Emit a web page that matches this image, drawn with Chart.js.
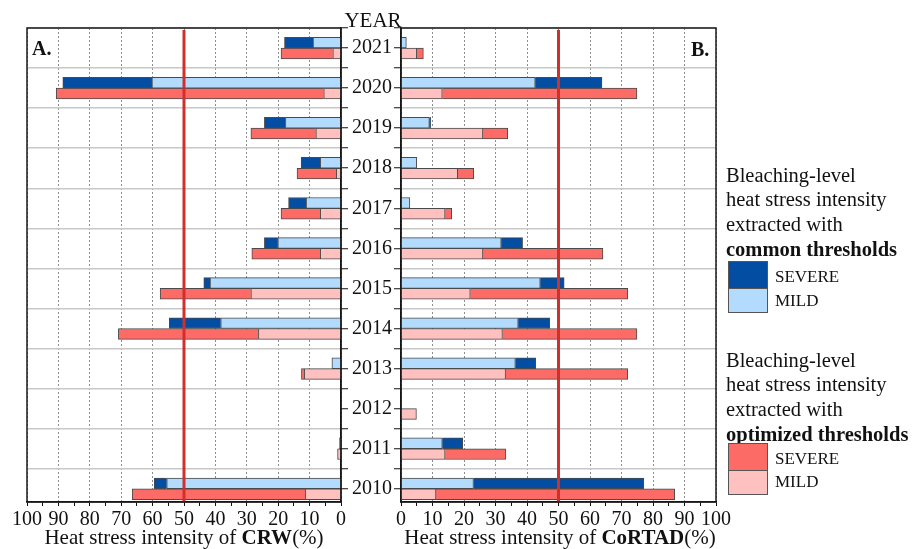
<!DOCTYPE html>
<html>
<head>
<meta charset="utf-8">
<script src="https://cdn.jsdelivr.net/npm/chart.js@4.4.1/dist/chart.umd.min.js"></script>
<style>
  body { margin: 0; background: #fff; }
  #wrap { position: relative; width: 914px; height: 549px; font-family: 'Liberation Serif', 'Times New Roman', serif; color: #111; }
  canvas { position: absolute; top: 0; }
  .txt { position: absolute; white-space: nowrap; line-height: 1; }
  .leg { position: absolute; left: 726px; font-size: 20.5px; line-height: 24.7px; white-space: nowrap; }
  .sw { position: absolute; left: 728px; width: 40px; border: 1px solid #555; box-sizing: border-box; }
  .lab { position: absolute; left: 775px; font-size: 17px; line-height: 1; }
</style>
</head>
<body>
<div id="wrap">
  <canvas id="crwChart" width="400" height="549" style="left:0"></canvas>
  <canvas id="cortadChart" width="543" height="549" style="left:371px"></canvas>

  <div class="txt" style="left:373px; top:10px; font-size:21px; transform:translateX(-50%)">YEAR</div>
  <div class="txt" style="left:32px; top:38px; font-size:20px; font-weight:bold">A.</div>
  <div class="txt" style="left:691px; top:39px; font-size:20px; font-weight:bold">B.</div>
  <div class="txt" style="left:184px; top:527px; font-size:21px; transform:translateX(-50%)">Heat stress intensity of <b>CRW</b>(%)</div>
  <div class="txt" style="left:560px; top:527px; font-size:21px; transform:translateX(-50%)">Heat stress intensity of <b>CoRTAD</b>(%)</div>

  <div class="leg" style="top:162.5px">Bleaching-level<br>heat stress intensity<br>extracted with<br><b>common thresholds</b></div>
  <div class="sw" style="top:261px; height:28px; background:#034ea2"></div>
  <div class="sw" style="top:288px; height:25px; background:#b3dbfd"></div>
  <div class="lab" style="top:268px">SEVERE</div>
  <div class="lab" style="top:292px">MILD</div>

  <div class="leg" style="top:347.5px">Bleaching-level<br>heat stress intensity<br>extracted with<br><b>optimized thresholds</b></div>
  <div class="sw" style="top:443px; height:28px; background:#fd6b66"></div>
  <div class="sw" style="top:470px; height:25px; background:#ffc0c0"></div>
  <div class="lab" style="top:449.5px">SEVERE</div>
  <div class="lab" style="top:473px">MILD</div>
</div>

<script>
// Data (percent), top to bottom
const years = [2021, 2020, 2019, 2018, 2017, 2016, 2015, 2014, 2013, 2012, 2011, 2010];

// CRW - panel A
const crwCommonMild     = [8.9, 60.2, 17.7, 6.6, 11.1, 20.1, 41.7, 38.3, 2.9, null, 0.5, 55.5];
const crwCommonSevere   = [9.1, 28.4, 6.7, 6.1, 5.6, 4.3, 2.0, 16.4, null, null, null, 4.0];
const crwOptMild        = [2.6, 5.5, 8.0, 1.5, 6.6, 6.6, 28.7, 26.3, 11.7, null, 1.1, 11.4];
const crwOptSevere      = [16.5, 85.2, 20.7, 12.5, 12.5, 21.8, 28.9, 44.6, 0.9, null, null, 55.1];

// CoRTAD - panel B
const cortadCommonMild   = [1.7, 42.6, 9.0, 5.0, 2.8, 31.8, 44.2, 37.2, 36.3, null, 13.1, 23.0];
const cortadCommonSevere = [null, 21.2, 0.4, null, null, 6.8, 7.6, 10.0, 6.5, null, 6.5, 54.1];
const cortadOptMild      = [5.0, 13.1, 26.0, 18.0, 14.0, 26.0, 22.0, 32.2, 33.2, 4.9, 14.0, 11.1];
const cortadOptSevere    = [2.1, 61.8, 7.9, 5.1, 2.1, 38.1, 50.0, 42.7, 38.8, null, 19.3, 75.8];

const threshold = 50;
const xTicks = [0, 5, 10, 15, 20, 25, 30, 35, 40, 45, 50, 55, 60, 65, 70, 75, 80, 85, 90, 95, 100];
const yTicks = [2010, 2010.5, 2011, 2011.5, 2012, 2012.5, 2013, 2013.5, 2014, 2014.5, 2015, 2015.5,
                2016, 2016.5, 2017, 2017.5, 2018, 2018.5, 2019, 2019.5, 2020, 2020.5, 2021, 2021.5];

const colors = {
    commonSevere: '#034ea2',
    commonMild: '#b3dbfd',
    optSevere: '#fd6b66',
    optMild: '#ffc0c0'
};

Chart.defaults.font.family = "'Liberation Serif', 'Times New Roman', serif";
Chart.defaults.color = '#111';

function toPoints(vals) {
    return vals.map((v, i) => ({ x: v, y: years[i] }));
}

function makeDatasets(cMild, cSevere, oMild, oSevere) {
    const common = { borderColor: '#4a4a4a', borderWidth: 1, barThickness: 10.8 };
    return [
        { ...common, label: 'common MILD', data: toPoints(cMild), backgroundColor: colors.commonMild, stack: 'common' },
        { ...common, label: 'common SEVERE', data: toPoints(cSevere), backgroundColor: colors.commonSevere, stack: 'common' },
        { ...common, label: 'optimized MILD', data: toPoints(oMild), backgroundColor: colors.optMild, stack: 'optimized' },
        { ...common, label: 'optimized SEVERE', data: toPoints(oSevere), backgroundColor: colors.optSevere, stack: 'optimized' }
    ];
}

// frame + 50% threshold line
const framePlugin = {
    id: 'frame',
    afterDatasetsDraw(chart) {
        const { ctx, chartArea } = chart;
        const x = chart.scales.x.getPixelForValue(threshold);
        ctx.save();
        ctx.strokeStyle = '#d0302c';
        ctx.lineWidth = 3;
        ctx.beginPath();
        ctx.moveTo(x, chartArea.top + 2);
        ctx.lineTo(x, chartArea.bottom);
        ctx.stroke();
        ctx.restore();
    },
    afterDraw(chart) {
        const { ctx, chartArea } = chart;
        ctx.save();
        ctx.strokeStyle = '#1a1a1a';
        ctx.lineWidth = 1.5;
        ctx.strokeRect(chartArea.left, chartArea.top, chartArea.right - chartArea.left, chartArea.bottom - chartArea.top);
        ctx.restore();
    }
};

function xScale(reverse) {
    return {
        type: 'linear',
        stacked: true,
        reverse: reverse,
        min: 0,
        max: 100,
        afterBuildTicks: s => { s.ticks = xTicks.map(v => ({ value: v })); },
        afterFit: s => { s.height = 47; },
        grid: {
            color: c => (c.tick && c.tick.value % 10 === 0) ? '#8c8c8c' : 'rgba(0,0,0,0)',
            tickColor: '#111',
            tickLength: 4,
            lineWidth: 1
        },
        border: { color: '#111', width: 1.5, dash: [2, 2] },
        ticks: {
            autoSkip: false,
            maxRotation: 0,
            padding: 2,
            font: { size: 20 },
            color: '#111',
            callback: v => (v % 10 === 0 ? String(v) : '')
        }
    };
}

function yScale(position, showLabels, width) {
    return {
        type: 'linear',
        position: position,
        offset: false,
        min: 2009.67,
        max: 2021.5,
        afterBuildTicks: s => { s.ticks = yTicks.map(v => ({ value: v })); },
        afterFit: s => { s.width = width; },
        grid: {
            offset: false,
            color: c => (c.tick && !Number.isInteger(c.tick.value)) ? '#c8c8c8' : 'rgba(0,0,0,0)',
            lineWidth: 1.5,
            tickColor: '#111',
            tickLength: 7,
            tickWidth: 1
        },
        border: { color: '#111', width: 1.5 },
        ticks: {
            autoSkip: false,
            padding: 4,
            font: { size: 20 },
            color: '#111',
            callback: v => (showLabels && Number.isInteger(v) ? String(v) : '')
        }
    };
}

function baseOptions(reverse, yPos, showLabels, yWidth, padding) {
    return {
        indexAxis: 'y',
        responsive: false,
        animation: false,
        layout: { padding: padding },
        plugins: { legend: { display: false }, tooltip: { enabled: false } },
        scales: {
            x: xScale(reverse),
            y: yScale(yPos, showLabels, yWidth)
        }
    };
}

new Chart(document.getElementById('crwChart'), {
    type: 'bar',
    data: { datasets: makeDatasets(crwCommonMild, crwCommonSevere, crwOptMild, crwOptSevere) },
    options: baseOptions(true, 'right', true, 59, { left: 27, top: 28, right: 0, bottom: 0 }),
    plugins: [framePlugin]
});

new Chart(document.getElementById('cortadChart'), {
    type: 'bar',
    data: { datasets: makeDatasets(cortadCommonMild, cortadCommonSevere, cortadOptMild, cortadOptSevere) },
    options: baseOptions(false, 'left', false, 30, { left: 0, top: 28, right: 198, bottom: 0 }),
    plugins: [framePlugin]
});
</script>
</body>
</html>
